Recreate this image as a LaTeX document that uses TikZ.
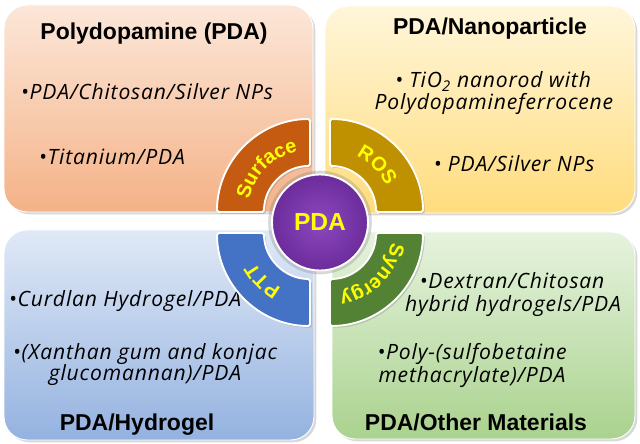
\documentclass[tikz,border=0pt]{standalone}
\usepackage{fontspec}
\setmainfont{Liberation Sans}
\newfontfamily\handfont{Open Sans}[LetterSpace=4]
\usepackage{xcolor}
\usepackage{tikz}
\usetikzlibrary{calc, shadows, decorations.text}
\definecolor{pdapurple}{RGB}{108,44,155}
\definecolor{pdapurplelt}{RGB}{140,72,190}
\definecolor{surfbrown}{RGB}{197,90,17}
\definecolor{rosgold}{RGB}{191,144,0}
\definecolor{pttblue}{RGB}{68,114,196}
\definecolor{synergreen}{RGB}{84,130,53}
\definecolor{segyellow}{RGB}{255,255,0}
\definecolor{peachtop}{RGB}{252,231,217}
\definecolor{peachbot}{RGB}{244,178,135}
\definecolor{yellowtop}{RGB}{255,246,218}
\definecolor{yellowbot}{RGB}{255,220,125}
\definecolor{bluetop}{RGB}{224,233,246}
\definecolor{bluebot}{RGB}{148,178,224}
\definecolor{greentop}{RGB}{230,243,222}
\definecolor{greenbot}{RGB}{170,210,142}
\newcommand{\seglabel}{\bfseries\fontsize{17}{20}\selectfont\color{segyellow}}
\newcommand{\ringseg}[4]{%
  \draw[segment, fill=#3] ($(#1)+({#2}:93)$) arc[start angle=#2, end angle=#2-90, radius=93]
    -- ($(#1)+({#2-90}:46)$) arc[start angle=#2-90, end angle=#2, radius=46] -- cycle;
  \path[decorate, decoration={text along path, text align=center, text={|\seglabel|#4}}]
    ($(#1)+({#2}:62)$) arc[start angle=#2, end angle=#2-90, radius=62];
}

\begin{document}
\begin{tikzpicture}[x=0.03cm, y=0.03cm, every node/.style={inner sep=0pt},
  ttl/.style={font=\bfseries\fontsize{19.6}{23}\selectfont, anchor=base},
  itm/.style={font=\handfont\itshape\fontsize{18}{21}\selectfont, anchor=base},
  panel/.style={rounded corners=0.7cm, draw=white, line width=0.8pt,
    drop shadow={opacity=0.3, shadow xshift=2pt, shadow yshift=-2pt}},
  segment/.style={draw=white, line width=1.6pt, rounded corners=1.5pt,
    drop shadow={opacity=0.35, shadow xshift=1.5pt, shadow yshift=-1.5pt}}]
  \useasboundingbox (0,0) rectangle (640,443);
  \fill[white] (0,0) rectangle (640,443);

  \path[panel, top color=peachtop, bottom color=peachbot] (4,231) rectangle (313,438);
  \path[panel, top color=yellowtop, bottom color=yellowbot] (325,230) rectangle (635,437);
  \path[panel, top color=bluetop, bottom color=bluebot] (4,3) rectangle (314,213);
  \path[panel, top color=greentop, bottom color=greenbot] (332,4) rectangle (635,211);

  \node[ttl] (tlhead) at (154,403) {Polydopamine (PDA)};
  \node[itm] (tl1) at (147,343) {•PDA/Chitosan/Silver NPs};
  \node[itm] (tl2) at (112,278) {•Titanium/PDA};

  \node[ttl] (trhead) at (490,408) {PDA/Nanoparticle};
  \node[itm] (tr1a) at (493,355) {• TiO\textsubscript{2} nanorod with};
  \node[itm] (tr1b) at (494,333) {Polydopamineferrocene};
  \node[itm] (tr2) at (514,271) {• PDA/Silver NPs};

  \node[itm] (bl1) at (125,136) {•Curdlan Hydrogel/PDA};
  \node[itm] (bl2a) at (145,83) {•(Xanthan gum and konjac};
  \node[itm] (bl2b) at (145,63) {glucomannan)/PDA};
  \node[ttl] (blhead) at (137,13) {PDA/Hydrogel};

  \node[itm] (br1a) at (512,154) {•Dextran/Chitosan};
  \node[itm] (br1b) at (513,131) {hybrid hydrogels/PDA};
  \node[itm] (br2a) at (472,83) {•Poly-(sulfobetaine};
  \node[itm] (br2b) at (472,61) {methacrylate)/PDA};
  \node[ttl] (brhead) at (476,13) {PDA/Other Materials};

  \coordinate (csurf) at (310,231);
  \coordinate (cros) at (330,231);
  \coordinate (cptt) at (310,210);
  \coordinate (csyn) at (330,210);
  \ringseg{csurf}{180}{surfbrown}{Surface}
  \ringseg{cros}{90}{rosgold}{ROS}
  \ringseg{csyn}{0}{synergreen}{Synergy}
  \ringseg{cptt}{-90}{pttblue}{PTT}

  \node[circle, minimum size=2.88cm, inner color=pdapurplelt, outer color=pdapurple,
        draw=white, line width=1.6pt, text=segyellow, font=\bfseries\fontsize{21}{24}\selectfont,
        drop shadow={opacity=0.3, shadow xshift=0pt, shadow yshift=0pt, shadow scale=1.08}]
        (pda) at (320,220.5) {PDA};
\end{tikzpicture}
\end{document}
